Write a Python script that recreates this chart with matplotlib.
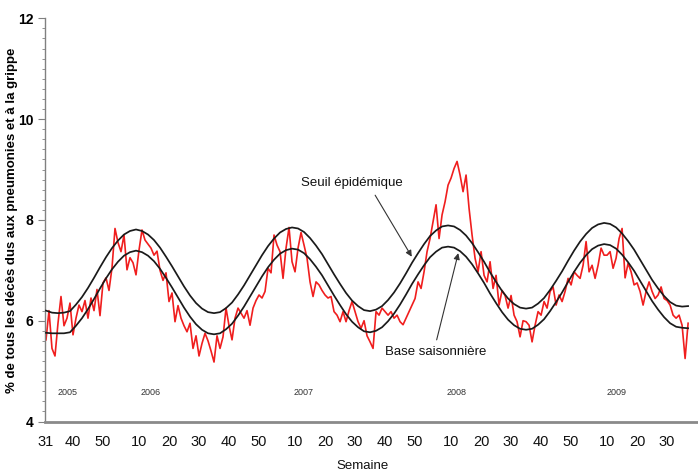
import matplotlib
matplotlib.use("Agg")
import matplotlib.pyplot as plt
import numpy as np
from matplotlib.ticker import MultipleLocator

plt.rcParams['font.family'] = ['Liberation Sans', 'DejaVu Sans']

# ---- data ----
start_year, start_week = 2005, 31
pct_pi = [
    5.62, 6.20, 5.45, 5.30, 5.95, 6.48, 5.90, 6.05, 6.35, 5.72,
    6.05, 6.31, 6.18, 6.40, 6.05, 6.45, 6.20, 6.62, 6.10, 6.75,
    6.85, 6.60, 7.05, 7.83, 7.55, 7.37, 7.70, 7.01, 7.25, 7.15,
    6.91, 7.40, 7.80, 7.60, 7.52, 7.44, 7.30, 7.38, 7.00, 6.80,
    6.95, 6.38, 6.55, 5.98, 6.30, 6.05, 5.90, 5.78, 5.95, 5.45,
    5.70, 5.30, 5.55, 5.75, 5.60, 5.40, 5.18, 5.70, 5.45, 5.68,
    6.25, 5.90, 5.62, 6.05, 6.25, 6.15, 6.05, 6.20, 5.91, 6.25,
    6.40, 6.51, 6.45, 6.58, 7.04, 6.95, 7.70, 7.50, 7.37, 6.84,
    7.44, 7.85, 7.17, 6.97, 7.44, 7.75, 7.50, 7.24, 6.77, 6.48,
    6.77, 6.71, 6.60, 6.51, 6.45, 6.48, 6.18, 6.11, 5.98, 6.18,
    5.98, 6.20, 6.38, 6.18, 5.98, 5.85, 6.00, 5.70, 5.58, 5.45,
    6.18, 6.11, 6.25, 6.18, 6.11, 6.18, 6.05, 6.11, 5.98, 5.92,
    6.05, 6.18, 6.31, 6.44, 6.77, 6.64, 6.97, 7.37, 7.63, 7.96,
    8.30, 7.63, 8.10, 8.36, 8.69, 8.83, 9.02, 9.16, 8.89, 8.56,
    8.89, 8.23, 7.70, 7.24, 6.97, 7.37, 6.90, 6.77, 7.17, 6.64,
    6.90, 6.31, 6.60, 6.50, 6.25, 6.50, 6.11, 5.98, 5.68, 6.00,
    5.98, 5.91, 5.58, 5.91, 6.18, 6.11, 6.38, 6.25, 6.58, 6.67,
    6.31, 6.51, 6.38, 6.58, 6.84, 6.71, 6.97, 6.90, 6.84, 7.10,
    7.57, 6.97, 7.10, 6.84, 7.10, 7.44, 7.30, 7.30, 7.37, 7.04,
    7.24, 7.63, 7.83, 6.85, 7.14, 6.97, 6.71, 6.75, 6.58, 6.31,
    6.58, 6.77, 6.58, 6.44, 6.51, 6.67, 6.44, 6.40, 6.31, 6.11,
    6.05, 6.11, 5.91, 5.25, 5.95,
]

# baseline and threshold, read every 2 weeks
baseline_step = 2
seasonal_baseline = [
    5.76, 5.75, 5.75, 5.75, 5.77, 5.90, 6.05, 6.23, 6.43, 6.64,
    6.84, 7.02, 7.17, 7.29, 7.36, 7.39, 7.36, 7.29, 7.18, 7.03,
    6.85, 6.66, 6.46, 6.26, 6.08, 5.93, 5.82, 5.75, 5.73, 5.75,
    5.83, 5.94, 6.10, 6.28, 6.48, 6.68, 6.88, 7.06, 7.21, 7.33,
    7.40, 7.43, 7.41, 7.34, 7.22, 7.07, 6.90, 6.70, 6.50, 6.31,
    6.13, 5.98, 5.87, 5.79, 5.77, 5.80, 5.87, 5.99, 6.14, 6.32,
    6.52, 6.73, 6.92, 7.10, 7.26, 7.37, 7.45, 7.47, 7.45, 7.38,
    7.27, 7.12, 6.94, 6.75, 6.54, 6.35, 6.17, 6.02, 5.91, 5.84,
    5.82, 5.84, 5.92, 6.03, 6.19, 6.37, 6.56, 6.77, 6.97, 7.15,
    7.30, 7.42, 7.49, 7.52, 7.50, 7.43, 7.31, 7.16, 6.99, 6.79,
    6.59, 6.39, 6.22, 6.07, 5.95, 5.88, 5.86, 5.85,
]
epidemic_threshold = [
    6.20, 6.16, 6.15, 6.16, 6.19, 6.32, 6.47, 6.65, 6.85, 7.06,
    7.26, 7.44, 7.59, 7.71, 7.78, 7.81, 7.78, 7.71, 7.60, 7.45,
    7.27, 7.08, 6.88, 6.68, 6.50, 6.35, 6.24, 6.17, 6.15, 6.17,
    6.25, 6.36, 6.52, 6.70, 6.90, 7.10, 7.30, 7.48, 7.63, 7.75,
    7.82, 7.85, 7.83, 7.76, 7.64, 7.49, 7.32, 7.12, 6.92, 6.73,
    6.55, 6.40, 6.29, 6.21, 6.19, 6.22, 6.29, 6.41, 6.56, 6.74,
    6.94, 7.15, 7.34, 7.52, 7.68, 7.79, 7.87, 7.89, 7.87, 7.80,
    7.69, 7.54, 7.36, 7.17, 6.96, 6.77, 6.59, 6.44, 6.33, 6.26,
    6.24, 6.26, 6.34, 6.45, 6.61, 6.79, 6.98, 7.19, 7.39, 7.57,
    7.72, 7.84, 7.91, 7.94, 7.92, 7.85, 7.73, 7.58, 7.41, 7.21,
    7.01, 6.81, 6.64, 6.49, 6.37, 6.30, 6.28, 6.29,
]

tick_years = [2005, 2005, 2005, 2006, 2006, 2006, 2006, 2006, 2007, 2007, 2007,
              2007, 2007, 2008, 2008, 2008, 2008, 2008, 2009, 2009, 2009]
tick_weeks = [31, 40, 50, 10, 20, 30, 40, 50, 10, 20, 30,
              40, 50, 10, 20, 30, 40, 50, 10, 20, 30]
year_labels = ["2005", "2006", "2007", "2008", "2009"]
year_label_pos = [7.3, 35.0, 85.7, 136.7, 190.3]

# ---- plot ----
fig = plt.figure(figsize=(6.98, 4.73), dpi=100)
ax = fig.add_axes([45/698, 51.5/473, 653/698, 403.2/473])

x_obs = np.arange(len(pct_pi))
x_base = np.arange(len(seasonal_baseline)) * baseline_step

ax.plot(x_obs, pct_pi, color='#f01e1e', lw=1.2, zorder=2)
ax.plot(x_base, epidemic_threshold, color='#1a1a1a', lw=1.25, zorder=3)
ax.plot(x_base, seasonal_baseline, color='#1a1a1a', lw=1.25, zorder=3)

ax.set_xlim(-0.33, 217.3)
ax.set_ylim(4, 12)

tick_pos = [(y - start_year) * 52 + w - start_week for y, w in zip(tick_years, tick_weeks)]
ax.set_xticks(tick_pos)
ax.set_xticklabels([str(w) for w in tick_weeks], fontsize=10.5, color='#111111')
ax.tick_params(axis='x', length=0, pad=10)

ax.yaxis.set_major_locator(MultipleLocator(2))
ax.yaxis.set_minor_locator(MultipleLocator(0.2))
ax.tick_params(axis='y', which='major', length=5, width=0.8, color='#808080',
               labelsize=10, pad=3.5)
ax.tick_params(axis='y', which='minor', length=2.5, width=0.6, color='#808080')
for lbl in ax.get_yticklabels():
    lbl.set_fontweight('bold')

for s in ['top', 'right']:
    ax.spines[s].set_visible(False)
ax.spines['left'].set_color('#808080')
ax.spines['left'].set_linewidth(1.0)
ax.spines['bottom'].set_color('#8a8a8a')
ax.spines['bottom'].set_linewidth(2.0)

for lab, pos in zip(year_labels, year_label_pos):
    ax.text(pos, 4.57, lab, fontsize=6.5, color='#333333', ha='center', va='center')

fig.text(12.5/698, (473-220)/473, "% de tous les décès dus aux pneumonies et à la grippe",
         rotation=90, ha='center', va='center', fontsize=9.5, fontweight='bold')
fig.text(363/698, (473-460)/473, "Semaine", ha='center', va='top', fontsize=9.5,
         color='#111111')

# annotations
ax.text(102, 8.73, "Seuil épidémique", fontsize=9.5, ha='center', va='center', color='#111111')
ax.annotate("", xy=(121.9, 7.27), xytext=(109.7, 8.49),
            arrowprops=dict(arrowstyle='-|>', color='#333333', lw=0.8,
                            mutation_scale=9, shrinkA=0, shrinkB=0))
ax.text(130, 5.38, "Base saisonnière", fontsize=9.5, ha='center', va='center', color='#111111')
ax.annotate("", xy=(137.4, 7.34), xytext=(130.2, 5.62),
            arrowprops=dict(arrowstyle='-|>', color='#333333', lw=0.8,
                            mutation_scale=9, shrinkA=0, shrinkB=0))

fig.savefig("out.png", dpi=100)
